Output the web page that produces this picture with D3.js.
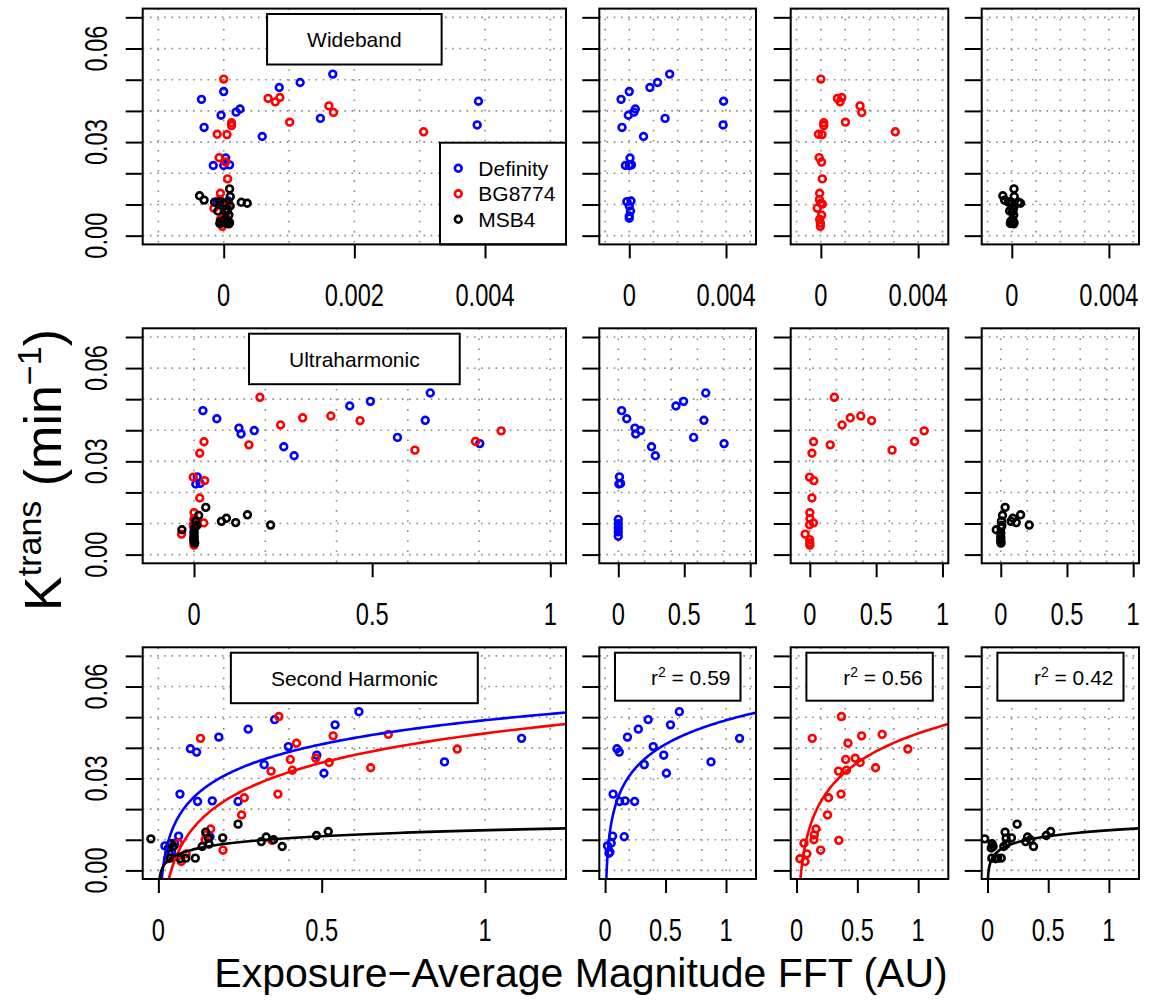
<!DOCTYPE html>
<html>
<head>
<meta charset="utf-8">
<script src="https://cdn.jsdelivr.net/npm/d3@7/dist/d3.min.js"></script>
<style>
  body { margin: 0; background: #fff; }
  text { font-family: "Liberation Sans", Arial, sans-serif; fill: #000; }
  .tick-lab { font-size: 32px; }
</style>
</head>
<body>
<script>
// ---- data ----
var seriesNames = ["Definity", "BG8774", "MSB4"];
var seriesColors = ["#0000ff", "#ff0000", "#000000"];
var panelTitles = ["Wideband", "Ultraharmonic", "Second Harmonic"];
var r2Labels = ["0.59", "0.56", "0.42"];

var yTicks = [0, 0.01, 0.02, 0.03, 0.04, 0.05, 0.06, 0.07];
var yTickLabels = [0, 0.03, 0.06];
var xLimits = [[-0.001, 0.005], [-0.1, 1], [0, 1.2]];
var xGridLines = [
  [-0.001, 0, 0.001, 0.002, 0.003, 0.004, 0.005],
  [0, 0.2, 0.4, 0.6, 0.8, 1],
  [0, 0.2, 0.4, 0.6, 0.8, 1, 1.2]
];
var xTicksBig = [[0, 0.002, 0.004], [0, 0.5, 1], [0, 0.5, 1]];
var xTicksSmall = [[0, 0.004], [0, 0.5, 1], [0, 0.5, 1]];

// Wideband
var wbDefinity = [[0.00167,0.0518],[0.00117,0.0491],[0.00085,0.0475],[0.0,0.0462],[-0.00034,0.0437],[0.00025,0.0406],[0.00019,0.0396],[-0.00004,0.0386],[0.00148,0.0376],[-0.0003,0.0347],[0.00059,0.0318],[0.0039,0.0431],[0.00388,0.0355],[0.00003,0.0249],[-0.00016,0.0225],[0.0,0.0225],[0.00009,0.0227],[-0.0001,0.0109],[0.00007,0.0111],[0.0,0.0095],[0.00005,0.0079],[0.0,0.0063],[0.0,0.0056]];
var wbBG8774 = [[0.0,0.0502],[0.00068,0.0440],[0.00086,0.0443],[0.00079,0.0429],[0.00161,0.0416],[0.00168,0.0395],[0.00101,0.0364],[0.00012,0.0362],[0.00012,0.0353],[-0.0001,0.0325],[0.00005,0.0324],[0.00306,0.0333],[-0.00007,0.0250],[0.00003,0.0236],[0.00006,0.0182],[-0.00005,0.0136],[-0.00006,0.0116],[0.0,0.0104],[0.00006,0.0101],[-0.00015,0.0088],[0.00003,0.0066],[-0.00005,0.0052],[-0.00002,0.0040],[-0.00002,0.0030]];
var wbMSB4 = [[-0.00037,0.0128],[-0.0003,0.0114],[0.00009,0.0150],[0.0001,0.0125],[-0.00014,0.0107],[-0.00006,0.0109],[0.0,0.0104],[0.00027,0.0107],[0.00036,0.0104],[-0.00009,0.0079],[0.00006,0.0084],[0.00003,0.0077],[0.00008,0.0066],[0.0001,0.0095],[-0.00005,0.0045],[0.00006,0.0045],[0.00009,0.0042],[-0.00006,0.0039],[0.0,0.0047],[0.00003,0.0052],[0.00004,0.0040],[0.00008,0.0038]];

// Ultraharmonic
var uhDefinity = [[0.663,0.0520],[0.495,0.0493],[0.437,0.0478],[0.649,0.0432],[0.571,0.0377],[0.802,0.0357],[0.025,0.0463],[0.064,0.0437],[0.126,0.0407],[0.132,0.0388],[0.169,0.0399],[0.252,0.0347],[0.281,0.0318],[0.009,0.0250],[0.005,0.0227],[0.017,0.0229],[0.0,0.0113],[0.0,0.0099],[0.0,0.0086],[0.0,0.0073],[0.0,0.0059]];
var uhBG8774 = [[0.185,0.0506],[0.243,0.0417],[0.305,0.0440],[0.384,0.0446],[0.466,0.0431],[0.154,0.0353],[0.620,0.0336],[0.790,0.0364],[0.862,0.0398],[0.028,0.0363],[0.016,0.0326],[-0.002,0.0249],[0.030,0.0238],[0.016,0.0182],[0.0,0.0135],[0.001,0.0116],[0.027,0.0102],[-0.002,0.0096],[-0.035,0.0066],[-0.001,0.0048],[0.0,0.0038],[0.0,0.0030]];
var uhMSB4 = [[0.033,0.0152],[0.013,0.0126],[0.077,0.0107],[0.091,0.0117],[0.117,0.0103],[0.150,0.0128],[0.215,0.0095],[-0.034,0.0080],[0.005,0.0108],[0.002,0.0086],[0.008,0.0094],[0.0,0.0070],[0.0,0.0058],[0.0,0.0050],[0.0,0.0043],[0.002,0.0037]];

// Second harmonic
var shDefinity = [[0.614,0.0518],[0.356,0.0492],[0.541,0.0475],[0.275,0.0461],[0.185,0.0435],[1.112,0.0431],[0.098,0.0397],[0.117,0.0386],[0.398,0.0404],[0.485,0.0376],[0.324,0.0345],[0.876,0.0354],[0.507,0.0317],[0.066,0.0249],[0.12,0.0225],[0.165,0.0227],[0.244,0.0225],[0.062,0.0112],[0.158,0.0110],[0.02,0.0080],[0.05,0.0089],[0.04,0.0060],[0.032,0.0056]];
var shBG8774 = [[0.369,0.0502],[0.129,0.0431],[0.535,0.0439],[0.704,0.0444],[0.423,0.0415],[0.915,0.0396],[0.404,0.0362],[0.482,0.0366],[0.523,0.0352],[0.345,0.0324],[0.41,0.0327],[0.65,0.0335],[0.263,0.0237],[0.366,0.0249],[0.255,0.0181],[0.16,0.0135],[0.146,0.0116],[0.143,0.0100],[0.348,0.0098],[0.061,0.0089],[0.198,0.0066],[0.085,0.0054],[0.028,0.0038],[0.07,0.0029]];
var shMSB4 = [[-0.023,0.0103],[0.244,0.0151],[0.145,0.0125],[0.153,0.0105],[0.197,0.0106],[0.134,0.0078],[0.155,0.0086],[0.113,0.0040],[0.084,0.0040],[0.067,0.0038],[0.036,0.0040],[0.046,0.0078],[0.038,0.0087],[0.031,0.0073],[0.315,0.0094],[0.33,0.0109],[0.353,0.0100],[0.379,0.0078],[0.484,0.0114],[0.52,0.0127]];

// log fits for second harmonic: y = a + b*ln(x)
var fitIntercepts = [0.049, 0.0447, 0.0131];
var fitSlopes = [0.0113, 0.0138, 0.0028];

var rowData = [
  [wbDefinity, wbBG8774, wbMSB4],
  [uhDefinity, uhBG8774, uhMSB4],
  [shDefinity, shBG8774, shMSB4]
];

// ---- layout ----
var w = 1164, h = 1000;
var rowBox = [[8.6, 244.4], [328.3, 563.3], [647.3, 879]];   // top, bottom
var colBox = [[142.7, 566], [599.3, 756], [790.7, 948.3], [981.7, 1139]]; // left, right
var ptR = 3.4, ptW = 2.6;

var svg = d3.select("body").append("svg")
    .attr("width", w)
    .attr("height", h);

var fmtY = d3.format(".2f");

function pad(lim) {                     // R style 4% extension
  var d = (lim[1] - lim[0]) * 0.04;
  return [lim[0] - d, lim[1] + d];
}

function drawPanel(r, c) {
  var left = colBox[c][0], right = colBox[c][1];
  var top = rowBox[r][0], bottom = rowBox[r][1];
  var x = d3.scaleLinear().domain(pad(xLimits[r])).range([left, right]);
  var y = d3.scaleLinear().domain(pad([0, 0.07])).range([bottom, top]);
  var id = "clip" + r + c;

  svg.append("clipPath").attr("id", id)
    .append("rect").attr("x", left).attr("y", top)
    .attr("width", right - left).attr("height", bottom - top);

  var g = svg.append("g");
  var inner = g.append("g").attr("clip-path", "url(#" + id + ")");

  // grid
  inner.selectAll("line.hg").data(yTicks).enter().append("line")
    .attr("x1", left).attr("x2", right)
    .attr("y1", function(d){ return y(d); }).attr("y2", function(d){ return y(d); })
    .attr("stroke", "#8a8a8a").attr("stroke-width", 1.6)
    .attr("stroke-dasharray", "1.6,5.6");
  inner.selectAll("line.vg").data(xGridLines[r]).enter().append("line")
    .attr("y1", top).attr("y2", bottom)
    .attr("x1", function(d){ return x(d); }).attr("x2", function(d){ return x(d); })
    .attr("stroke", "#8a8a8a").attr("stroke-width", 1.6)
    .attr("stroke-dasharray", "1.6,8.5");

  // points
  var which = c === 0 ? [0, 1, 2] : [c - 1];
  which.forEach(function(s){
    inner.selectAll("circle.s" + s).data(rowData[r][s]).enter().append("circle")
      .attr("cx", function(d){ return x(d[0]); })
      .attr("cy", function(d){ return y(d[1]); })
      .attr("r", ptR)
      .attr("fill", "none")
      .attr("stroke", seriesColors[s])
      .attr("stroke-width", ptW);
  });

  // fitted curves
  if (r === 2) {
    which.forEach(function(s){
      var a = fitIntercepts[s], b = fitSlopes[s];
      var x0 = Math.exp((y.domain()[0] - a) / b);
      var xs = d3.range(0, 201).map(function(i){
        return x0 * Math.pow(x.domain()[1] / x0, i / 200);
      });
      var line = d3.line()
        .x(function(d){ return x(d); })
        .y(function(d){ return y(a + b * Math.log(d)); });
      inner.append("path").datum(xs)
        .attr("d", line)
        .attr("fill", "none")
        .attr("stroke", seriesColors[s])
        .attr("stroke-width", 2.6);
    });
  }

  // title box / r2 box
  if (c === 0) {
    var t = g.append("text")
      .attr("x", (left + right) / 2).attr("y", top + 31.5 + 7)
      .attr("text-anchor", "middle")
      .style("font-size", "21px")
      .text(panelTitles[r]);
    var tw = t.node().getComputedTextLength();
    g.insert("rect", "text")
      .attr("x", (left + right) / 2 - tw / 2 - 40).attr("y", top + 5.4)
      .attr("width", tw + 80).attr("height", 50.5)
      .attr("fill", "#fff").attr("stroke", "#000").attr("stroke-width", 2);
  } else if (r === 2) {
    g.append("rect")
      .attr("x", left + 15.7).attr("y", top + 5.4)
      .attr("width", right - left - 31.2).attr("height", 48)
      .attr("fill", "#fff").attr("stroke", "#000").attr("stroke-width", 2);
    var rt = g.append("text")
      .attr("x", right - 25.5).attr("y", top + 5.4 + 24 + 8)
      .attr("text-anchor", "end")
      .style("font-size", "21px");
    rt.append("tspan").text("r");
    rt.append("tspan").attr("dy", -8).style("font-size", "14px").text("2");
    rt.append("tspan").attr("dy", 8).text(" = " + r2Labels[c - 1]);
  }

  // legend
  if (r === 0 && c === 0) {
    var lg = g.append("g");
    lg.append("rect")
      .attr("x", 440).attr("y", 142.7)
      .attr("width", right - 440).attr("height", bottom - 142.7)
      .attr("fill", "#fff").attr("stroke", "#000").attr("stroke-width", 2);
    var ly = d3.scalePoint().domain(seriesNames).range([168.3, 219.3]);
    seriesNames.forEach(function(nm, i){
      lg.append("circle")
        .attr("cx", 458.3).attr("cy", ly(nm)).attr("r", ptR)
        .attr("fill", "none").attr("stroke", seriesColors[i]).attr("stroke-width", ptW);
      lg.append("text")
        .attr("x", 478.3).attr("y", ly(nm) + 7.5)
        .style("font-size", "21px")
        .text(nm);
    });
  }

  // frame
  g.append("rect")
    .attr("x", left).attr("y", top)
    .attr("width", right - left).attr("height", bottom - top)
    .attr("fill", "none").attr("stroke", "#000").attr("stroke-width", 2);

  // y axis
  var ya = g.append("g").attr("transform", "translate(" + left + ",0)")
    .call(d3.axisLeft(y).tickValues(yTicks).tickSize(17).tickFormat(""));
  ya.select(".domain").remove();
  ya.selectAll("line").attr("stroke", "#000").attr("stroke-width", 2);
  if (c === 0) {
    g.selectAll("text.yl").data(yTickLabels).enter().append("text")
      .attr("class", "tick-lab")
      .attr("text-anchor", "middle")
      .attr("transform", function(d){
        return "translate(" + (left - 36) + "," + y(d) + ") rotate(-90) scale(0.74,1)";
      })
      .text(function(d){ return fmtY(d); });
  }

  // x axis
  var xt = c === 0 ? xTicksBig[r] : xTicksSmall[r];
  var xa = g.append("g").attr("transform", "translate(0," + bottom + ")")
    .call(d3.axisBottom(x).tickValues(xt).tickSize(14).tickFormat(""));
  xa.select(".domain").remove();
  xa.selectAll("line").attr("stroke", "#000").attr("stroke-width", 2);
  g.selectAll("text.xl").data(xt).enter().append("text")
    .attr("class", "tick-lab")
    .attr("text-anchor", "middle")
    .attr("transform", function(d){
      return "translate(" + x(d) + "," + (bottom + 62) + ") scale(0.74,1)";
    })
    .text(function(d){ return String(d); });
}

for (var r = 0; r < 3; r++) {
  for (var c = 0; c < 4; c++) drawPanel(r, c);
}

// axis titles
svg.append("text")
  .attr("x", 581).attr("y", 987)
  .attr("text-anchor", "middle")
  .style("font-size", "41px")
  .text("Exposure\u2212Average Magnitude FFT (AU)");

var yt = svg.append("text")
  .attr("text-anchor", "middle")
  .attr("transform", "translate(61,470) rotate(-90)")
  .style("font-size", "52px");
yt.append("tspan").text("K");
yt.append("tspan").attr("dy", -20).style("font-size", "34px").text("trans");
yt.append("tspan").attr("dy", 20).text(" (min");
yt.append("tspan").attr("dy", -20).style("font-size", "34px").text("\u22121");
yt.append("tspan").attr("dy", 20).text(")");
</script>
</body>
</html>
